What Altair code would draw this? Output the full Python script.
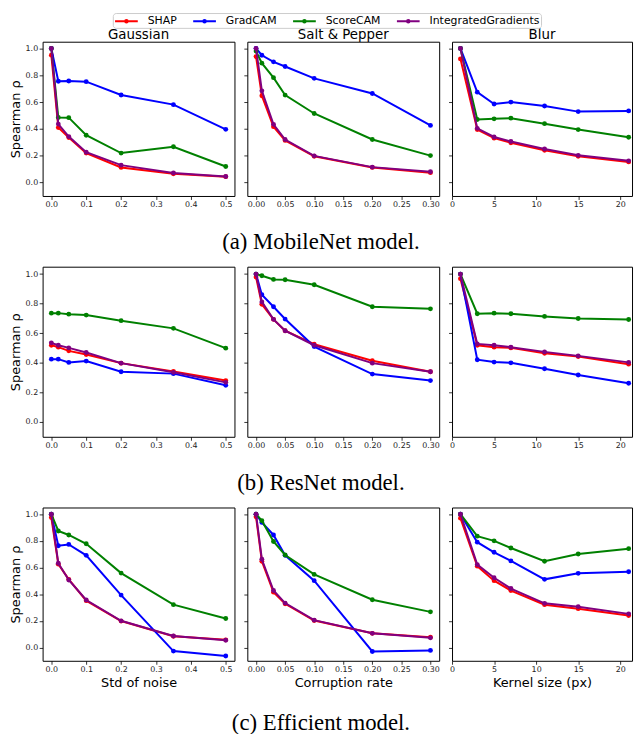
import altair as alt
import pandas as pd

methods = ["SHAP", "GradCAM", "ScoreCAM", "IntegratedGradients"]
palette = ["#ff0000", "#0000ff", "#008000", "#800080"]

perturbations = ["Gaussian", "Salt & Pepper", "Blur"]
x_titles = ["Std of noise", "Corruption rate", "Kernel size (px)"]
captions = ["(a) MobileNet model.", "(b) ResNet model.", "(c) Efficient model."]

x_gaussian = [0.0, 0.02, 0.05, 0.1, 0.2, 0.35, 0.5]
x_saltpepper = [0.0, 0.01, 0.03, 0.05, 0.1, 0.2, 0.3]
x_blur = [1, 3, 5, 7, 11, 15, 21]

# (a) MobileNet
mob_gauss_shap = [0.95, 0.41, 0.336, 0.22, 0.113, 0.066, 0.044]
mob_gauss_gradcam = [1.0, 0.755, 0.757, 0.752, 0.653, 0.581, 0.397]
mob_gauss_scorecam = [1.0, 0.485, 0.484, 0.353, 0.22, 0.267, 0.12]
mob_gauss_ig = [1.0, 0.436, 0.343, 0.226, 0.13, 0.072, 0.045]

mob_sp_shap = [0.939, 0.647, 0.417, 0.314, 0.196, 0.113, 0.074]
mob_sp_gradcam = [1.0, 0.949, 0.9, 0.865, 0.777, 0.664, 0.426]
mob_sp_scorecam = [0.98, 0.89, 0.782, 0.652, 0.515, 0.321, 0.201]
mob_sp_ig = [1.0, 0.684, 0.434, 0.321, 0.199, 0.115, 0.081]

mob_blur_shap = [0.922, 0.395, 0.331, 0.297, 0.24, 0.196, 0.154]
mob_blur_gradcam = [1.0, 0.674, 0.586, 0.6, 0.571, 0.529, 0.534]
mob_blur_scorecam = [1.0, 0.47, 0.475, 0.48, 0.439, 0.395, 0.338]
mob_blur_ig = [1.0, 0.404, 0.34, 0.306, 0.25, 0.203, 0.162]

# (b) ResNet
res_gauss_shap = [0.519, 0.506, 0.481, 0.456, 0.398, 0.342, 0.28]
res_gauss_gradcam = [0.425, 0.425, 0.403, 0.412, 0.34, 0.327, 0.248]
res_gauss_scorecam = [0.736, 0.736, 0.729, 0.723, 0.685, 0.633, 0.499]
res_gauss_ig = [0.535, 0.519, 0.501, 0.47, 0.398, 0.336, 0.268]

res_sp_shap = [0.98, 0.796, 0.694, 0.617, 0.526, 0.414, 0.34]
res_sp_gradcam = [1.0, 0.861, 0.779, 0.696, 0.51, 0.324, 0.28]
res_sp_scorecam = [1.0, 0.989, 0.964, 0.962, 0.928, 0.779, 0.765]
res_sp_ig = [1.0, 0.812, 0.694, 0.617, 0.519, 0.398, 0.34]

res_blur_shap = [0.969, 0.519, 0.506, 0.501, 0.465, 0.443, 0.391]
res_blur_gradcam = [1.0, 0.421, 0.405, 0.4, 0.36, 0.318, 0.262]
res_blur_scorecam = [1.0, 0.732, 0.736, 0.732, 0.714, 0.7, 0.693]
res_blur_ig = [1.0, 0.528, 0.519, 0.506, 0.474, 0.447, 0.403]

# (c) Efficient
eff_gauss_shap = [0.975, 0.625, 0.511, 0.351, 0.198, 0.084, 0.057]
eff_gauss_gradcam = [1.0, 0.763, 0.773, 0.691, 0.393, -0.027, -0.064]
eff_gauss_scorecam = [1.0, 0.874, 0.844, 0.778, 0.558, 0.321, 0.217]
eff_gauss_ig = [1.0, 0.632, 0.506, 0.356, 0.2, 0.086, 0.054]

eff_sp_shap = [0.98, 0.647, 0.415, 0.328, 0.202, 0.106, 0.077]
eff_sp_gradcam = [1.0, 0.938, 0.844, 0.691, 0.501, -0.03, -0.022]
eff_sp_scorecam = [1.0, 0.951, 0.795, 0.694, 0.548, 0.358, 0.267]
eff_sp_ig = [1.0, 0.662, 0.427, 0.333, 0.205, 0.106, 0.072]

eff_blur_shap = [0.97, 0.61, 0.501, 0.427, 0.321, 0.291, 0.24]
eff_blur_gradcam = [1.0, 0.79, 0.714, 0.649, 0.511, 0.556, 0.568]
eff_blur_scorecam = [1.0, 0.835, 0.8, 0.746, 0.647, 0.701, 0.741]
eff_blur_ig = [1.0, 0.622, 0.523, 0.442, 0.331, 0.306, 0.252]

y_ticks = [0.0, 0.2, 0.4, 0.6, 0.8, 1.0]

col_specs = [
    dict(xs=x_gaussian, dom=[-0.025, 0.525], ticks=[0.0, 0.1, 0.2, 0.3, 0.4, 0.5], fmt=".1f", w=194),
    dict(xs=x_saltpepper, dom=[-0.015, 0.315], ticks=[0.0, 0.05, 0.1, 0.15, 0.2, 0.25, 0.3], fmt=".2f", w=194),
    dict(xs=x_blur, dom=[0, 21.4], ticks=[0, 5, 10, 15, 20], fmt="d", w=182),
]

rows_series = [
    [
        [mob_gauss_shap, mob_gauss_gradcam, mob_gauss_scorecam, mob_gauss_ig],
        [mob_sp_shap, mob_sp_gradcam, mob_sp_scorecam, mob_sp_ig],
        [mob_blur_shap, mob_blur_gradcam, mob_blur_scorecam, mob_blur_ig],
    ],
    [
        [res_gauss_shap, res_gauss_gradcam, res_gauss_scorecam, res_gauss_ig],
        [res_sp_shap, res_sp_gradcam, res_sp_scorecam, res_sp_ig],
        [res_blur_shap, res_blur_gradcam, res_blur_scorecam, res_blur_ig],
    ],
    [
        [eff_gauss_shap, eff_gauss_gradcam, eff_gauss_scorecam, eff_gauss_ig],
        [eff_sp_shap, eff_sp_gradcam, eff_sp_scorecam, eff_sp_ig],
        [eff_blur_shap, eff_blur_gradcam, eff_blur_scorecam, eff_blur_ig],
    ],
]
row_heights = [156, 172, 155]
caption_offsets = [22, 22, 22]

# line with a dot; drawn at half the nominal symbol size so the entry stays short
legend_symbol = ("M -2 0 L 2 0 M 0.22 0 A 0.22 0.22 0 1 1 -0.22 0 "
                 "A 0.22 0.22 0 1 1 0.22 0")

color_enc = alt.Color(
    "method:N",
    scale=alt.Scale(domain=methods, range=palette),
    legend=alt.Legend(
        title=None, orient="none", direction="horizontal",
        legendX=71, legendY=-29,
        symbolType=legend_symbol, symbolSize=132, symbolStrokeWidth=2,
        labelFont="DejaVu Sans", labelFontSize=11, labelColor="black",
        labelOffset=14.5, columnPadding=12, symbolOffset=5.75,
        strokeColor="#cccccc", cornerRadius=3, padding=1, fillColor="white",
    ),
)


def panel(r, c):
    spec = col_specs[c]
    recs = []
    for m, ys in zip(methods, rows_series[r][c]):
        for x, y in zip(spec["xs"], ys):
            recs.append({"x": x, "y": y, "method": m})
    df = pd.DataFrame(recs)
    xaxis_kw = dict(values=spec["ticks"], format=spec["fmt"], labelFlush=False,
                    labelOverlap=False)
    yaxis_kw = dict(values=y_ticks, format=".1f", labelFlush=False, labelOverlap=False,
                    labels=(c == 0))
    layers = []
    for m in methods:
        layers.append(
            alt.Chart()
            .transform_filter(alt.datum.method == m)
            .mark_line(strokeWidth=2,
                       point=alt.OverlayMarkDef(filled=True, size=24, opacity=1))
            .encode(
                x=alt.X("x:Q", scale=alt.Scale(domain=spec["dom"], nice=False, zero=False),
                        axis=alt.Axis(**xaxis_kw),
                        title=(x_titles[c] if r == 2 else None)),
                y=alt.Y("y:Q", scale=alt.Scale(domain=[-0.1, 1.05], nice=False, zero=False),
                        axis=alt.Axis(**yaxis_kw),
                        title=("Spearman ρ" if c == 0 else None)),
                color=color_enc,
            )
        )
    ch = alt.layer(*layers, data=df).properties(width=spec["w"], height=row_heights[r])
    if r == 0:
        ch = ch.properties(title=alt.TitleParams(
            perturbations[c], font="DejaVu Sans", fontSize=13.5, fontWeight="normal",
            color="black", offset=0))
    return ch


rows = []
for r in range(3):
    row = alt.hconcat(*[panel(r, c) for c in range(3)], spacing=7).properties(
        title=alt.TitleParams(captions[r], orient="bottom", anchor="middle",
                              font="Liberation Serif", fontSize=23, fontWeight="normal",
                              color="black", offset=caption_offsets[r])
    )
    rows.append(row)

chart = (
    alt.vconcat(*rows, spacing=11.5)
    .properties(padding=0)
    .configure_view(stroke="black", strokeWidth=1)
    .configure_axis(grid=False, domain=False, tickColor="black", tickSize=3.5,
                    tickWidth=0.8, labelFont="DejaVu Sans", labelFontSize=8,
                    labelColor="#222222", labelPadding=1.5, titleFont="DejaVu Sans",
                    titleFontSize=13, titleFontWeight="normal", titleColor="black",
                    titlePadding=3)
)

chart.save("out.html", embed_options={"renderer": "svg", "actions": False})
